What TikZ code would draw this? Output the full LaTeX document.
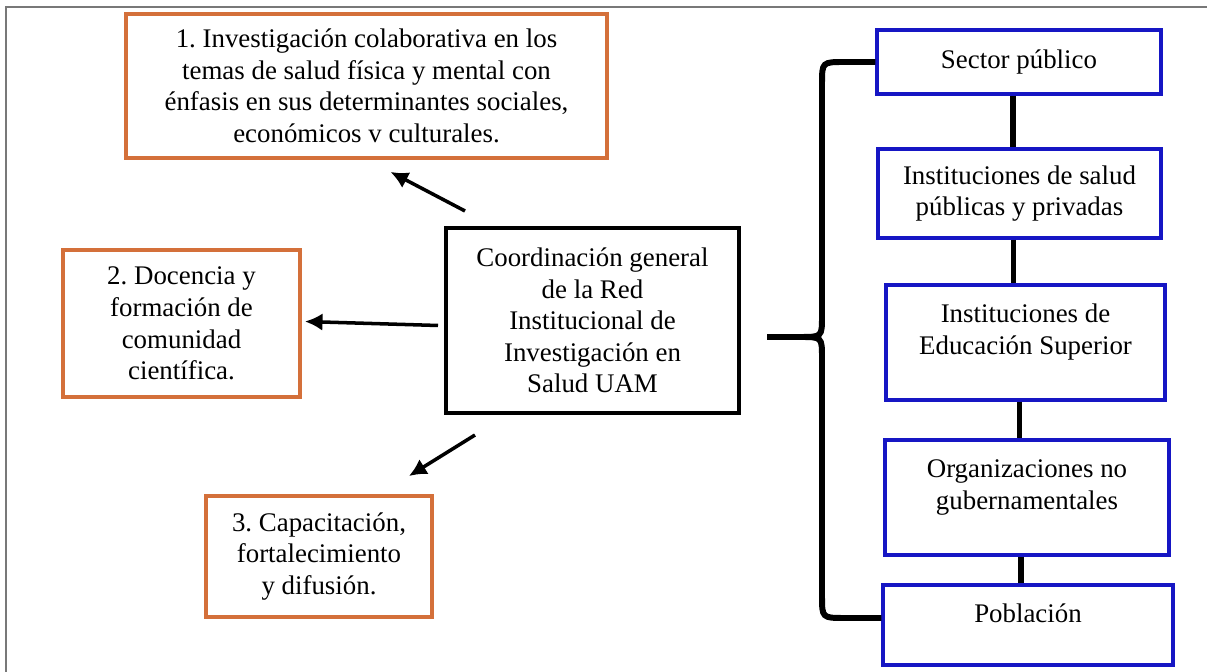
\documentclass[tikz,border=0pt]{standalone}
\usepackage{fontspec}
\setmainfont{Liberation Serif}
\usetikzlibrary{calc, arrows.meta}
\frenchspacing

\definecolor{boxorange}{RGB}{212,112,58}
\definecolor{boxblue}{RGB}{22,22,196}
\definecolor{framegray}{RGB}{120,120,120}

\begin{document}
\begin{tikzpicture}[x=0.02cm, y=0.02cm,
  every node/.style={font=\fontsize{15.3}{18}\selectfont, align=center, inner sep=0pt},
  obox/.style={draw=boxorange, line width=2.2pt},
  bbox/.style={draw=boxblue, line width=2pt},
  cbox/.style={draw=black, line width=2.3pt},
  arr/.style={-{Latex[length=10pt,width=10pt]}, line width=2pt},
  link/.style={line width=3.2pt},
  brace/.style={line width=3.4pt}]
\useasboundingbox (0,0) rectangle (1207,672);
\draw[framegray, line width=1.2pt] (6,0) -- (6,665) -- (1207,665);

% lineas de accion
\node[obox, minimum width=9.62cm, minimum height=2.88cm] (inv) at (366.5,586)
  {1. Investigación colaborativa en los\\temas de salud física y mental con\\énfasis en sus determinantes sociales,\\económicos v culturales.};
\node[obox, minimum width=4.74cm, minimum height=2.94cm] (doc) at (181.5,348.5)
  {2. Docencia y\\formación de\\comunidad\\científica.};
\node[obox, minimum width=4.52cm, minimum height=2.42cm] (cap) at (319,115.5)
  {3. Capacitación,\\fortalecimiento\\y difusión.};
\node[cbox, minimum width=5.86cm, minimum height=3.70cm] (coord) at (592.5,351.5)
  {Coordinación general\\de la Red\\Institucional de\\Investigación en\\Salud UAM};

% actores
\node[bbox, minimum width=5.68cm, minimum height=1.28cm] (sp) at (1019,610) {Sector público};
\node[bbox, minimum width=5.66cm, minimum height=1.78cm] (is) at (1019.5,478.5)
  {Instituciones de salud\\públicas y privadas};
\node[bbox, minimum width=5.58cm, minimum height=2.30cm, text depth=15pt] (ie) at (1025.5,329.5)
  {Instituciones de\\Educación Superior};
\node[bbox, minimum width=5.68cm, minimum height=2.30cm, text depth=15pt] (ong) at (1027,174.5)
  {Organizaciones no\\gubernamentales};
\node[bbox, minimum width=5.80cm, minimum height=1.60cm, text depth=13pt] (pob) at (1028,47) {Población};

% flechas
\draw[arr] ($(coord.north west)+(21,15)$) -- ($(inv.south)+(24,-12)$);
\draw[arr] ($(coord.west)+(-6,-5)$) -- ($(doc.east)+(3,2)$);
\draw[arr] ($(coord.south west)+(31,-20)$) -- ($(cap.north east)+(-25,18)$);

\foreach \a/\b in {sp/is, is/ie, ie/ong, ong/pob} {
  \path ($(\a.south)+(-6,0)$) coordinate (tmp);
  \draw[link] (tmp) -- (tmp |- \b.north);
}

% llave
\coordinate (tip) at (767,335);
\coordinate (pobin) at ($(pob.west)+(0,7)$);
\draw[brace] (sp.west) -- (845,610) .. controls (822,610) .. (822,588) -- (822,356)
  .. controls (822,335) .. (800,335) -- (tip);
\draw[brace] (pobin) -- (845,54) .. controls (822,54) .. (822,76) -- (822,314)
  .. controls (822,335) .. (800,335);
\end{tikzpicture}
\end{document}
